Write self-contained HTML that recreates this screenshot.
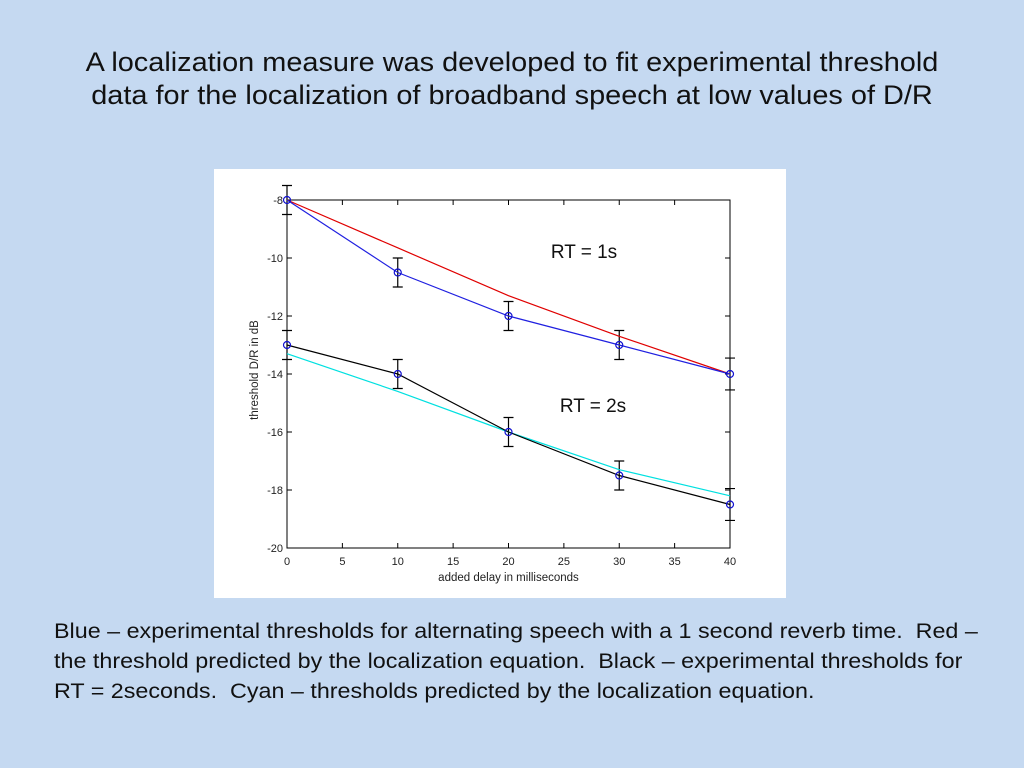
<!DOCTYPE html>
<html><head><meta charset="utf-8"><style>
body{margin:0;width:1024px;height:768px;background:#c5d9f1;overflow:hidden;font-family:"Liberation Sans",sans-serif}
#title{position:absolute;left:0;top:46px;width:1024px;text-align:center;font-size:27px;line-height:33px;color:#111;transform:scaleX(1.07);transform-origin:512px 0}
#panel{position:absolute;left:214px;top:169px;width:572px;height:429px;background:#fff}
#caption{position:absolute;left:54px;top:617px;width:900px;font-size:21px;line-height:30px;color:#111;white-space:nowrap;transform:scaleX(1.11);transform-origin:0 0}
</style></head><body>
<div id="title">A localization measure was developed to fit experimental threshold<br>data for the localization of broadband speech at low values of D/R</div>
<div id="panel"></div>
<svg id="chart" width="1024" height="768" style="position:absolute;left:0;top:0"></svg>
<div id="caption">Blue – experimental thresholds for alternating speech with a 1 second reverb time.&nbsp; Red –<br>the threshold predicted by the localization equation.&nbsp; Black – experimental thresholds for<br>RT = 2seconds.&nbsp; Cyan – thresholds predicted by the localization equation.</div>
<script>
const delays=[0,10,20,30,40];
const blueVals=[-8,-10.5,-12,-13,-14];
const redVals=[-8,-9.65,-11.3,-12.7,-14];
const blackVals=[-13,-14,-16,-17.5,-18.5];
const cyanVals=[-13.3,-14.6,-16,-17.3,-18.2];
const blueErr=[0.5,0.5,0.5,0.5,0.55];
const blackErr=[0.5,0.5,0.5,0.5,0.55];
const xTicks=[0,5,10,15,20,25,30,35,40];
const yTicks=[-8,-10,-12,-14,-16,-18,-20];
const NS="http://www.w3.org/2000/svg";
const svg=document.getElementById('chart');
const X0=287,X1=730,Y0=200,Y1=548;
const sx=v=>X0+(v-0)/40*(X1-X0);
const sy=v=>Y0+(-8-v)/12*(Y1-Y0);
function mk(t,a){const e=document.createElementNS(NS,t);for(const k in a)e.setAttribute(k,a[k]);svg.appendChild(e);return e;}
let box=mk('rect',{x:X0,y:Y0,width:X1-X0,height:Y1-Y0,fill:'none',stroke:'#000','stroke-width':1});


xTicks.forEach(t=>{
 mk('line',{x1:sx(t),x2:sx(t),y1:Y1,y2:Y1-5,stroke:'#000'});
 mk('line',{x1:sx(t),x2:sx(t),y1:Y0,y2:Y0+5,stroke:'#000'});
 const l=mk('text',{x:sx(t),y:Y1+17,'text-anchor':'middle','font-size':11,fill:'#222'});l.textContent=t;
 
 
});
yTicks.forEach(t=>{
 mk('line',{x1:X0,x2:X0+5,y1:sy(t),y2:sy(t),stroke:'#000'});
 mk('line',{x1:X1,x2:X1-5,y1:sy(t),y2:sy(t),stroke:'#000'});
 const l=mk('text',{x:X0-4,y:sy(t)+4,'text-anchor':'end','font-size':11,fill:'#222'});l.textContent=t;
 
 
});
let xt=mk('text',{x:(X0+X1)/2,y:Y1+33,'text-anchor':'middle','font-size':11.5,fill:'#222'});xt.textContent='added delay in milliseconds';


let yt=mk('text',{x:0,y:0,'text-anchor':'middle','font-size':11.5,fill:'#222',transform:`translate(258,${(Y0+Y1)/2-4}) rotate(-90)`});yt.textContent='threshold D/R in dB';


function line(vals,color,name){
 const p=mk('polyline',{points:vals.map((v,i)=>sx(delays[i])+','+sy(v)).join(' '),fill:'none',stroke:color,'stroke-width':1.2});
 
 
}
function errs(vals,e,name){
 vals.forEach((v,i)=>{
  const x=sx(delays[i]);
  const g=mk('path',{d:`M${x},${sy(v+e[i])}V${sy(v-e[i])}M${x-5},${sy(v+e[i])}h10M${x-5},${sy(v-e[i])}h10`,stroke:'#000','stroke-width':1.2,fill:'none'});
  
  
 });
}
errs(blueVals,blueErr,'blue-error-bar');
errs(blackVals,blackErr,'black-error-bar');
line(redVals,'#e00000','red-predicted-line');
line(cyanVals,'#00e0e0','cyan-predicted-line');
line(blueVals,'#2020e0','blue-experimental-line');
line(blackVals,'#000','black-experimental-line');
[blueVals,blackVals].forEach(vals=>vals.forEach((v,i)=>{
 const c=mk('circle',{cx:sx(delays[i]),cy:sy(v),r:3.5,fill:'none',stroke:'#1010d0','stroke-width':1.2});
 
 
}));
let a1=mk('text',{x:584,y:258,'text-anchor':'middle','font-size':19,fill:'#111'});a1.textContent='RT = 1s';


let a2=mk('text',{x:593,y:412,'text-anchor':'middle','font-size':19,fill:'#111'});a2.textContent='RT = 2s';


</script>
</body></html>
